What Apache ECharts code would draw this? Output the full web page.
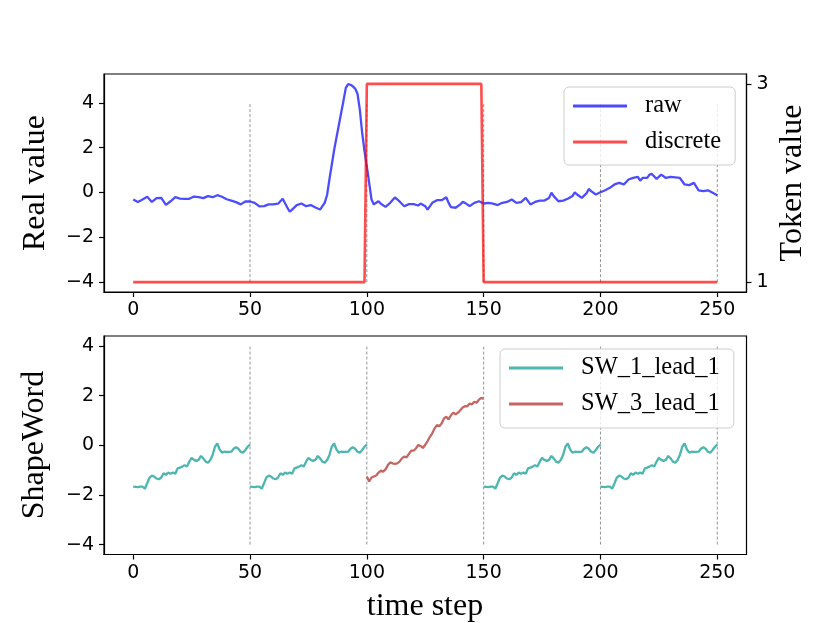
<!DOCTYPE html>
<html>
<head>
<meta charset="utf-8">
<script src="https://cdn.jsdelivr.net/npm/echarts@6/dist/echarts.min.js"></script>
<style>
  html, body { margin: 0; padding: 0; background: #fff; }
  #box { width: 830px; height: 623px; }
</style>
</head>
<body>
<div id="box"></div>
<script>
// raw signal
let rawT = [0,2,4,6,8,10,12,14,16,18,20,22,24,26,28,30,32,34,36,38,40,42,44,46,48,50,
  52,54,56,58,60,62,64,66,67,68,70,72,74,76,78,80,81,82,83,84,86,88,90,91,92,93,94,95,96,97,98,99,100,
  101,102,103,104,105,106,108,110,112,114,116,118,120,122,123,125,126,128,130,132,133,134,135,136,138,
  140,141,142,144,146,148,150,152,154,156,158,160,162,164,166,168,170,172,174,176,178,179,180,182,184,
  186,188,189,190,192,194,195,196,198,200,202,204,206,208,210,212,214,216,217,218,220,221,222,224,226,
  228,230,232,234,236,238,240,242,244,246,248,250];
let rawV = [-0.31,-0.42,-0.31,-0.19,-0.42,-0.25,-0.24,-0.55,-0.39,-0.21,-0.27,-0.28,-0.28,-0.18,-0.21,-0.25,
  -0.16,-0.21,-0.12,-0.19,-0.30,-0.36,-0.43,-0.53,-0.40,-0.40,
  -0.46,-0.62,-0.61,-0.53,-0.53,-0.50,-0.28,-0.68,-0.86,-0.76,-0.56,-0.49,-0.61,-0.56,-0.67,-0.76,-0.61,-0.45,-0.1,0.6,1.9,3.0,4.1,4.67,4.84,4.81,4.74,4.64,4.41,3.70,2.66,1.85,1.17,
  0.43,-0.31,-0.53,-0.46,-0.39,-0.50,-0.64,-0.46,-0.22,-0.40,-0.61,-0.52,-0.52,-0.58,-0.49,-0.61,-0.76,-0.46,-0.34,-0.34,-0.28,-0.21,-0.46,-0.65,-0.68,
  -0.53,-0.42,-0.46,-0.61,-0.46,-0.39,-0.49,-0.46,-0.50,-0.56,-0.46,-0.42,-0.31,-0.46,-0.43,-0.24,-0.53,-0.42,-0.36,-0.36,-0.24,-0.01,-0.16,-0.39,-0.36,
  -0.28,-0.16,0.01,-0.09,-0.24,-0.04,0.16,0.06,-0.09,0.01,0.10,0.21,0.36,0.43,0.36,0.58,0.65,0.70,0.53,0.65,0.65,0.80,0.83,0.61,0.80,
  0.65,0.70,0.68,0.65,0.36,0.33,0.43,0.10,0.06,0.10,-0.01,-0.12];

// discrete tokens
let discT = [0, 99, 100, 149, 150, 250];
let discV = [1, 1, 3, 3, 1, 1];

// shape words, one value per step over a 50-step window
let sw1 = [-1.67,-1.68,-1.69,-1.67,-1.67,-1.75,-1.53,-1.30,-1.22,-1.26,-1.34,-1.37,-1.30,-1.13,-1.19,-1.10,
  -1.15,-1.10,-1.15,-0.93,-0.90,-0.86,-0.80,-0.86,-0.66,-0.51,-0.59,-0.63,-0.59,-0.43,-0.53,-0.66,-0.70,
  -0.59,-0.39,-0.06,0.07,-0.17,-0.30,-0.26,-0.27,-0.27,-0.26,-0.14,-0.08,-0.14,-0.26,-0.30,-0.19,-0.06,0.03];
let sw3 = [-1.26,-1.46,-1.30,-1.26,-1.22,-1.10,-1.02,-1.06,-0.97,-0.80,-0.69,-0.73,-0.75,-0.73,-0.66,-0.53,
  -0.46,-0.49,-0.35,-0.22,-0.22,-0.13,0.01,-0.03,-0.11,0.02,0.17,0.34,0.48,0.68,0.81,0.77,0.88,1.08,
  1.15,1.04,1.21,1.31,1.25,1.31,1.41,1.52,1.57,1.57,1.68,1.65,1.75,1.71,1.84,1.91,1.87];
let sw1Starts = [0, 50, 150, 200];
let sw3Starts = [100];

let boundaries = [50, 100, 150, 200, 250];
let xTicks = [0, 50, 100, 150, 200, 250];
let yTicks = [-4, -2, 0, 2, 4];
let tokenTicks = [1, 3];

let box = document.getElementById('box');
let mychart = echarts.init(box);

function minus(v) {
    return v < 0 ? '\u2212' + Math.abs(v) : String(v);
}

let tickFont = { fontFamily: 'DejaVu Sans', fontSize: 19, color: '#000' };
let serif = 'Liberation Serif';

function xAxisOf(grid) {
    return {
        type: 'value', gridIndex: grid, min: -12.5, max: 262.5,
        axisLine: { onZero: false, lineStyle: { color: '#000', width: 1.2 } },
        axisTick: { show: true, length: 5, customValues: xTicks, lineStyle: { color: '#000', width: 1.2 } },
        axisLabel: Object.assign({ customValues: xTicks, margin: 9 }, tickFont),
        splitLine: { show: false }
    };
}
function yAxisOf(grid, min, max, ticks, pos) {
    return {
        type: 'value', gridIndex: grid, min: min, max: max, position: pos,
        axisLine: { show: true, onZero: false, lineStyle: { color: '#000', width: 1.2 } },
        axisTick: { show: true, length: 5, customValues: ticks, lineStyle: { color: '#000', width: 1.2 } },
        axisLabel: Object.assign({ customValues: ticks, margin: 10, formatter: minus }, tickFont),
        splitLine: { show: false }
    };
}

let series = [];
// dashed separators
boundaries.forEach(function (b) {
    [0, 1].forEach(function (g) {
        series.push({
            type: 'line', xAxisIndex: g, yAxisIndex: g == 0 ? 0 : 2,
            data: [[b, -4], [b, 4]], showSymbol: false, silent: true, z: 1,
            lineStyle: { color: '#8a8a8a', width: 0.9, type: [3, 2] }
        });
    });
});

series.push({
    name: 'raw', type: 'line', xAxisIndex: 0, yAxisIndex: 0, showSymbol: false, z: 3,
    data: rawT.map((t, i) => [t, rawV[i]]),
    color: 'rgba(0,0,255,0.7)', lineStyle: { width: 2.3, color: 'rgba(0,0,255,0.7)' }
});
series.push({
    name: 'discrete', type: 'line', xAxisIndex: 0, yAxisIndex: 1, showSymbol: false, z: 4,
    data: discT.map((t, i) => [t, discV[i]]),
    color: 'rgba(255,0,0,0.7)', lineStyle: { width: 2.6, color: 'rgba(255,0,0,0.7)' }
});

function addWords(name, values, starts, col) {
    starts.forEach(function (s) {
        series.push({
            name: name, type: 'line', xAxisIndex: 1, yAxisIndex: 2, showSymbol: false, z: 3,
            data: values.map((v, i) => [s + i, v]),
            color: col, lineStyle: { width: 2.3, color: col }
        });
    });
}
addWords('SW_1_lead_1', sw1, sw1Starts, '#4db6b0');
addWords('SW_3_lead_1', sw3, sw3Starts, '#c46762');

let legendBase = {
    orient: 'vertical', icon: 'rect', itemWidth: 54, itemHeight: 3, itemGap: 8,
    borderColor: '#cccccc', borderWidth: 1, borderRadius: 5,
    backgroundColor: 'rgba(255,255,255,0.8)',
    textStyle: { fontFamily: serif, fontSize: 24.5, color: '#000', lineHeight: 28, padding: [0, 0, 0, 13] }
};

function axisTitle(text, x, y, rot) {
    return {
        type: 'text', x: x, y: y, rotation: rot,
        style: { text: text, fill: '#000', font: '32px "Liberation Serif"', align: 'center', verticalAlign: 'middle' }
    };
}

let options = {
    backgroundColor: '#fff',
    animation: false,
    grid: [
        { left: 104, right: 83.5, top: 74, height: 218, show: true, borderColor: '#000', borderWidth: 1.2 },
        { left: 104, right: 83.5, top: 336, height: 218.5, show: true, borderColor: '#000', borderWidth: 1.2 }
    ],
    xAxis: [xAxisOf(0), xAxisOf(1)],
    yAxis: [
        yAxisOf(0, -4.44, 5.29, yTicks, 'left'),
        yAxisOf(0, 0.9, 3.1, tokenTicks, 'right'),
        yAxisOf(1, -4.4, 4.4, yTicks, 'left')
    ],
    legend: [
        Object.assign({}, legendBase, { data: ['raw', 'discrete'], left: 564, top: 87, padding: [5, 14, 9, 9] }),
        Object.assign({}, legendBase, { data: ['SW_1_lead_1', 'SW_3_lead_1'], left: 500, top: 349, padding: [5, 14, 10, 9] })
    ],
    graphic: [
        axisTitle('Real value', 36, 183, Math.PI / 2),
        axisTitle('Token value', 793, 183, Math.PI / 2),
        axisTitle('ShapeWord', 35, 445, Math.PI / 2),
        axisTitle('time step', 425, 607, 0)
    ],
    series: series
};

mychart.setOption(options);
</script>
</body>
</html>
